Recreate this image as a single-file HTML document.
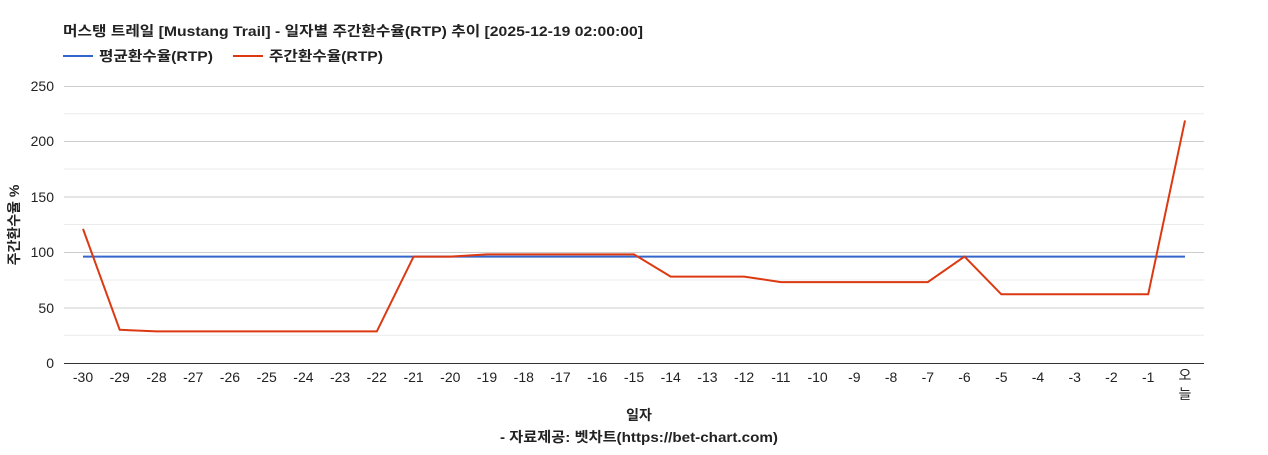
<!DOCTYPE html>
<html><head><meta charset="utf-8"><style>
html,body{margin:0;padding:0;background:#fff;}
svg text{font-family:"Liberation Sans","Noto Sans CJK KR",sans-serif;}
</style></head><body>
<svg width="1268" height="450" xmlns="http://www.w3.org/2000/svg">
<text x="63" y="36" font-size="14" font-weight="bold" fill="#222" textLength="580" lengthAdjust="spacingAndGlyphs">머스탱 트레일 [Mustang Trail] - 일자별 주간환수율(RTP) 추이 [2025-12-19 02:00:00]</text>
<line x1="63" y1="56" x2="93" y2="56" stroke="#3366cc" stroke-width="2"/>
<text x="99" y="61" font-size="14" font-weight="bold" fill="#222" textLength="114" lengthAdjust="spacingAndGlyphs">평균환수율(RTP)</text>
<line x1="233" y1="56" x2="263" y2="56" stroke="#dc3912" stroke-width="2"/>
<text x="269" y="61" font-size="14" font-weight="bold" fill="#222" textLength="114" lengthAdjust="spacingAndGlyphs">주간환수율(RTP)</text>
<g stroke="#ebebeb" stroke-width="1">
<line x1="64" y1="335.3" x2="1204" y2="335.3"/><line x1="64" y1="280" x2="1204" y2="280"/><line x1="64" y1="224.5" x2="1204" y2="224.5"/><line x1="64" y1="169" x2="1204" y2="169"/><line x1="64" y1="113.7" x2="1204" y2="113.7"/>
</g>
<g stroke="#cccccc" stroke-width="1">
<line x1="64" y1="86.5" x2="1204" y2="86.5"/><line x1="64" y1="141.5" x2="1204" y2="141.5"/><line x1="64" y1="197" x2="1204" y2="197"/><line x1="64" y1="252.5" x2="1204" y2="252.5"/><line x1="64" y1="308" x2="1204" y2="308"/>
</g>
<line x1="64" y1="363.5" x2="1204" y2="363.5" stroke="#333" stroke-width="1"/>
<g font-size="14" fill="#222" text-anchor="end">
<text x="54" y="368">0</text><text x="54" y="313">50</text><text x="54" y="257">100</text><text x="54" y="202">150</text><text x="54" y="146">200</text><text x="54" y="91">250</text>
</g>
<text transform="translate(19,225) rotate(-90)" font-size="14" font-weight="bold" fill="#222" text-anchor="middle">주간환수율 %</text>
<polyline fill="none" stroke="#3366cc" stroke-width="2" points="83,256.6 1185,256.6"/>
<polyline fill="none" stroke="#dc3912" stroke-width="2" points="83,228.9 119.7,329.8 156.5,331.4 193.2,331.4 229.9,331.4 266.7,331.4 303.4,331.4 340.1,331.4 376.8,331.4 413.6,256.6 450.3,256.6 487,254.4 523.8,254.4 560.5,254.4 597.2,254.4 634,254.4 670.7,276.6 707.4,276.6 744.1,276.6 780.9,282.1 817.6,282.1 854.3,282.1 891.1,282.1 927.8,282.1 964.5,256.6 1001.3,294.3 1038,294.3 1074.7,294.3 1111.4,294.3 1148.2,294.3 1185,120.4"/>
<g font-size="14" fill="#222" text-anchor="middle">
<text x="83" y="382">-30</text><text x="119.7" y="382">-29</text><text x="156.5" y="382">-28</text><text x="193.2" y="382">-27</text><text x="229.9" y="382">-26</text><text x="266.7" y="382">-25</text><text x="303.4" y="382">-24</text><text x="340.1" y="382">-23</text><text x="376.8" y="382">-22</text><text x="413.6" y="382">-21</text><text x="450.3" y="382">-20</text><text x="487" y="382">-19</text><text x="523.8" y="382">-18</text><text x="560.5" y="382">-17</text><text x="597.2" y="382">-16</text><text x="634" y="382">-15</text><text x="670.7" y="382">-14</text><text x="707.4" y="382">-13</text><text x="744.1" y="382">-12</text><text x="780.9" y="382">-11</text><text x="817.6" y="382">-10</text><text x="854.3" y="382">-9</text><text x="891.1" y="382">-8</text><text x="927.8" y="382">-7</text><text x="964.5" y="382">-6</text><text x="1001.3" y="382">-5</text><text x="1038" y="382">-4</text><text x="1074.7" y="382">-3</text><text x="1111.4" y="382">-2</text><text x="1148.2" y="382">-1</text><text x="1185" y="380">오</text><text x="1185" y="399">늘</text>
</g>
<text x="639" y="420" font-size="14" font-weight="bold" fill="#222" text-anchor="middle">일자</text>
<text x="500" y="442" font-size="14" font-weight="bold" fill="#222" textLength="278" lengthAdjust="spacingAndGlyphs">- 자료제공: 벳차트(https://bet-chart.com)</text>
</svg>
</body></html>
